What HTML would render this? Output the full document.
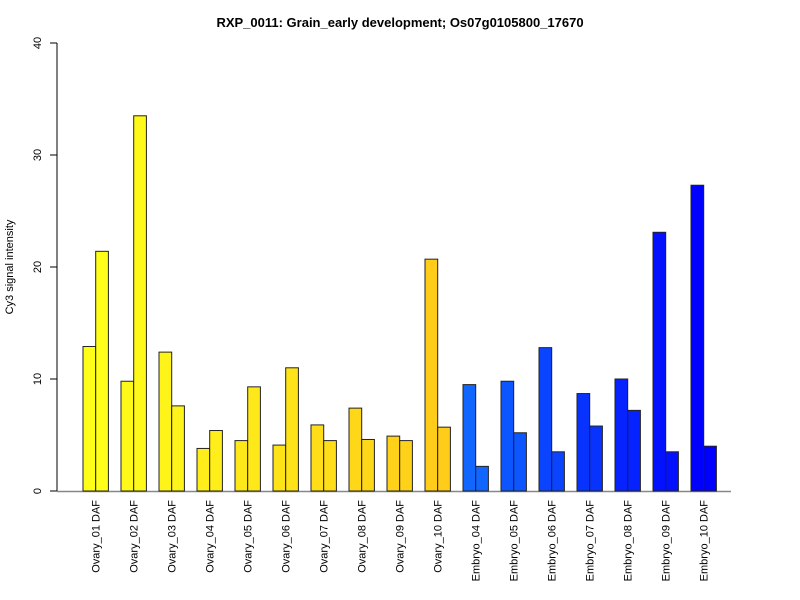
<!DOCTYPE html>
<html><head><meta charset="utf-8"><style>
body{margin:0;background:#fff}
svg{display:block;font-family:"Liberation Sans",Arial,sans-serif}
</style></head><body>
<svg id="chart" width="800" height="600">
<text x="400" y="27" text-anchor="middle" font-size="13" font-weight="bold">RXP_0011: Grain_early development; Os07g0105800_17670</text>
<text transform="translate(13,267) rotate(-90)" text-anchor="middle" font-size="11">Cy3 signal intensity</text>
<g id="yaxis"></g>
<g id="bars"></g>
<g id="xlabels"></g>
</svg>
<script>
const categories=["Ovary_01 DAF","Ovary_02 DAF","Ovary_03 DAF","Ovary_04 DAF","Ovary_05 DAF","Ovary_06 DAF","Ovary_07 DAF","Ovary_08 DAF","Ovary_09 DAF","Ovary_10 DAF","Embryo_04 DAF","Embryo_05 DAF","Embryo_06 DAF","Embryo_07 DAF","Embryo_08 DAF","Embryo_09 DAF","Embryo_10 DAF"];
const series1=[12.9,9.8,12.4,3.8,4.5,4.1,5.9,7.4,4.9,20.7,9.5,9.8,12.8,8.7,10.0,23.1,27.3];
const series2=[21.4,33.5,7.6,5.4,9.3,11.0,4.5,4.6,4.5,5.7,2.2,5.2,3.5,5.8,7.2,3.5,4.0];
const yTicks=[0,10,20,30,40];
const NS="http://www.w3.org/2000/svg";
const y0=491,y1=43,ymax=40;
const yScale=v=>y0-(v/ymax)*(y0-y1);
const pitch=38,left0=83,bw=12.7;
const xScale=i=>left0+pitch*i;
function mk(t,a,p){const e=document.createElementNS(NS,t);for(const k in a)e.setAttribute(k,a[k]);p.appendChild(e);return e;}
const ya=document.getElementById('yaxis');
const axl=mk('line',{x1:57,x2:57,y1:yScale(0),y2:yScale(40),stroke:'#000'},ya);


yTicks.forEach(t=>{
 const l=mk('line',{x1:50,x2:57,y1:yScale(t),y2:yScale(t),stroke:'#000'},ya);
 
 
 const tx=mk('text',{transform:`translate(41,${yScale(t)}) rotate(-90)`,'text-anchor':'middle','font-size':'11'},ya);
 tx.textContent=t;
 
 
});
const bg=document.getElementById('bars');
const n=categories.length;
function color(i){
 if(i<10){const f=i/9;return `rgb(255,${Math.round(255-51*f)},25)`;}
 const f=(i-10)/6;return `rgb(${Math.round(16-16*f)},${Math.round(102-102*f)},255)`;
}
const base=mk('line',{x1:57,x2:731,y1:y0+0.5,y2:y0+0.5,stroke:'#888','stroke-width':1.5},bg);


const xl=document.getElementById('xlabels');
categories.forEach((c,i)=>{
 const x=xScale(i);
 [series1[i],series2[i]].forEach((v,j)=>{
  const r=mk('rect',{x:x+j*bw,y:yScale(v),width:bw,height:y0-yScale(v),fill:color(i),stroke:'#222','stroke-width':1},bg);
  
  
 });
 const t=mk('text',{transform:`translate(${x+bw+4},500) rotate(-90)`,'text-anchor':'end','font-size':'11'},xl);
 t.textContent=c;
 
 
});
</script>
</body></html>
